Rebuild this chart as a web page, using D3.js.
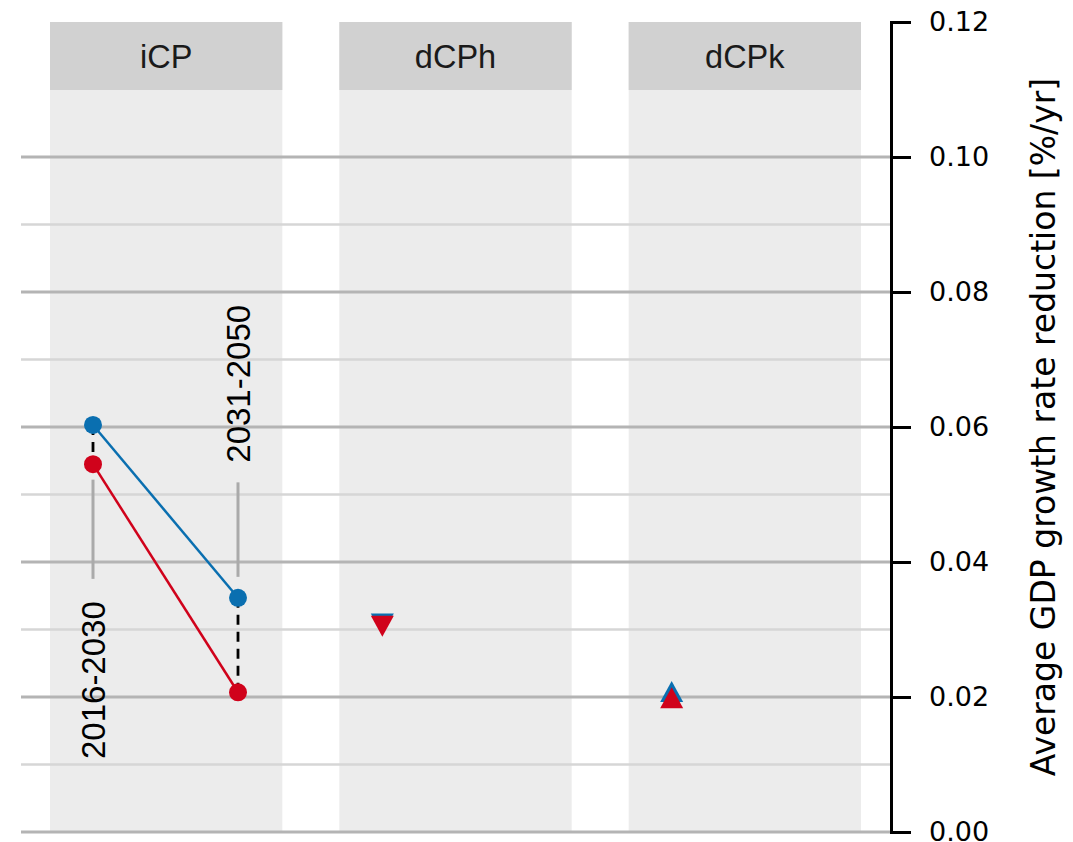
<!DOCTYPE html>
<html>
<head>
<meta charset="utf-8">
<script src="https://cdn.jsdelivr.net/npm/d3@7"></script>
<style>
  body { margin: 0; background: #fff; }
  svg { display: block; }
</style>
</head>
<body>
<div id="chart"></div>
<script>
// panels and x slots
var scenarios = ["iCP", "dCPh", "dCPk"];
var periods = ["2016-2030", "2031-2050"];

// iCP: two periods, two series
var icpBlue = [0.0603, 0.0347];
var icpRed = [0.0545, 0.0207];

// dCPh / dCPk: single marker each
var singleScen = ["dCPh", "dCPk"];
var singleBlue = [0.0308, 0.0208];
var singleRed = [0.0305, 0.0199];
var singleShape = ["down", "up"];

// period label positions (y value of label centre, line from/to)
var labelY = [0.0225, 0.0664];
var labelLine = [[0.0522, 0.0375], [0.0518, 0.0378]];

var yTicks = [0, 0.02, 0.04, 0.06, 0.08, 0.10, 0.12];
var gridMajor = [0, 0.02, 0.04, 0.06, 0.08, 0.10];
var gridMinor = [0.01, 0.03, 0.05, 0.07, 0.09];

var W = 1073, H = 842;
var plotTop = 22, plotBottom = 832, stripH = 68;
var gridLeft = 21, axisX = 891;

var svg = d3.select("#chart").append("svg")
    .attr("width", W)
    .attr("height", H);

var y = d3.scaleLinear().domain([0, 0.12]).range([plotBottom, plotTop]);

var panel = d3.scaleBand()
    .domain(scenarios)
    .range([50, 861])
    .paddingInner(0.197);

var xIn = d3.scalePoint()
    .domain(periods)
    .range([43, 188]);

var blue = "#0a6fb0", red = "#d0021b";

// panel backgrounds
svg.selectAll("rect.bg").data(scenarios).enter().append("rect")
    .attr("class", "bg")
    .attr("x", function(d){ return panel(d); })
    .attr("y", plotTop)
    .attr("width", panel.bandwidth())
    .attr("height", plotBottom - plotTop)
    .style("fill", "#ececec");

// grid
svg.selectAll("line.minor").data(gridMinor).enter().append("line")
    .attr("class", "minor")
    .attr("x1", gridLeft).attr("x2", axisX)
    .attr("y1", function(d){ return y(d); })
    .attr("y2", function(d){ return y(d); })
    .style("stroke", "#d6d6d6")
    .style("stroke-width", 2.5);

svg.selectAll("line.major").data(gridMajor).enter().append("line")
    .attr("class", "major")
    .attr("x1", gridLeft).attr("x2", axisX)
    .attr("y1", function(d){ return y(d); })
    .attr("y2", function(d){ return y(d); })
    .style("stroke", "#b4b4b4")
    .style("stroke-width", 3);

// strip headers
svg.selectAll("rect.strip").data(scenarios).enter().append("rect")
    .attr("class", "strip")
    .attr("x", function(d){ return panel(d); })
    .attr("y", plotTop)
    .attr("width", panel.bandwidth())
    .attr("height", stripH)
    .style("fill", "#d1d1d1");

svg.selectAll("text.strip").data(scenarios).enter().append("text")
    .attr("class", "strip")
    .attr("x", function(d){ return panel(d) + panel.bandwidth()/2; })
    .attr("y", plotTop + stripH/2)
    .attr("dy", "0.36em")
    .attr("text-anchor", "middle")
    .style("font-family", "Liberation Sans, Arial, sans-serif")
    .style("font-size", "32.5px")
    .style("fill", "#1a1a1a")
    .text(function(d){ return d; });

// iCP panel
var p0 = panel("iCP");
var g = svg.append("g").attr("transform", "translate(" + p0 + ",0)");

// period labels
periods.forEach(function(p, i){
    g.append("line")
        .attr("x1", xIn(p)).attr("x2", xIn(p))
        .attr("y1", y(labelLine[i][0])).attr("y2", y(labelLine[i][1]))
        .style("stroke", "#aaaaaa")
        .style("stroke-width", 3);
    g.append("text")
        .attr("transform", "translate(" + xIn(p) + "," + y(labelY[i]) + ") rotate(-90)")
        .attr("text-anchor", "middle")
        .attr("dy", "0.36em")
        .style("font-family", "Liberation Sans, Arial, sans-serif")
        .style("font-size", "33px")
        .style("fill", "#000")
        .text(p);
});

// dashed connectors
periods.forEach(function(p, i){
    g.append("line")
        .attr("x1", xIn(p)).attr("x2", xIn(p))
        .attr("y1", y(icpBlue[i])).attr("y2", y(icpRed[i]))
        .style("stroke", "#000")
        .style("stroke-width", 2.8)
        .style("stroke-dasharray", "10,7");
});

var line = d3.line()
    .x(function(d, i){ return xIn(periods[i]); })
    .y(function(d){ return y(d); });

[[icpBlue, blue], [icpRed, red]].forEach(function(s){
    g.append("path")
        .attr("d", line(s[0]))
        .style("fill", "none")
        .style("stroke", s[1])
        .style("stroke-width", 2.5);
    g.selectAll(null).data(s[0]).enter().append("circle")
        .attr("cx", function(d, i){ return xIn(periods[i]); })
        .attr("cy", function(d){ return y(d); })
        .attr("r", 9)
        .style("fill", s[1]);
});

// triangles
function tri(cx, cy, dir) {
    var h = 21, w = 23;
    if (dir == "down")
        return "M" + (cx - w/2) + "," + (cy - h/2) + "L" + (cx + w/2) + "," + (cy - h/2) + "L" + cx + "," + (cy + h/2) + "Z";
    return "M" + (cx - w/2) + "," + (cy + h/2) + "L" + (cx + w/2) + "," + (cy + h/2) + "L" + cx + "," + (cy - h/2) + "Z";
}

singleScen.forEach(function(sc, i){
    var cx = panel(sc) + xIn(periods[0]);
    svg.append("path")
        .attr("d", tri(cx, y(singleBlue[i]), singleShape[i]))
        .style("fill", blue);
    svg.append("path")
        .attr("d", tri(cx, y(singleRed[i]), singleShape[i]))
        .style("fill", red);
});

// right axis
var axis = svg.append("g")
    .attr("transform", "translate(" + axisX + ",0)")
    .call(d3.axisRight(y).tickValues(yTicks).tickSize(20).tickPadding(18)
        .tickFormat(d3.format(".2f")));
axis.select(".domain").style("stroke", "#000").style("stroke-width", 3);
axis.selectAll(".tick line").style("stroke", "#000").style("stroke-width", 3);
axis.selectAll(".tick text")
    .style("font-family", "DejaVu Sans, sans-serif")
    .style("font-size", "27px")
    .style("fill", "#000");

svg.append("text")
    .attr("transform", "translate(1043," + ((plotTop + plotBottom)/2) + ") rotate(-90)")
    .attr("text-anchor", "middle")
    .attr("dy", "0.36em")
    .style("font-family", "DejaVu Sans, sans-serif")
    .style("font-size", "33px")
    .style("fill", "#000")
    .text("Average GDP growth rate reduction [%/yr]");
</script>
</body>
</html>
